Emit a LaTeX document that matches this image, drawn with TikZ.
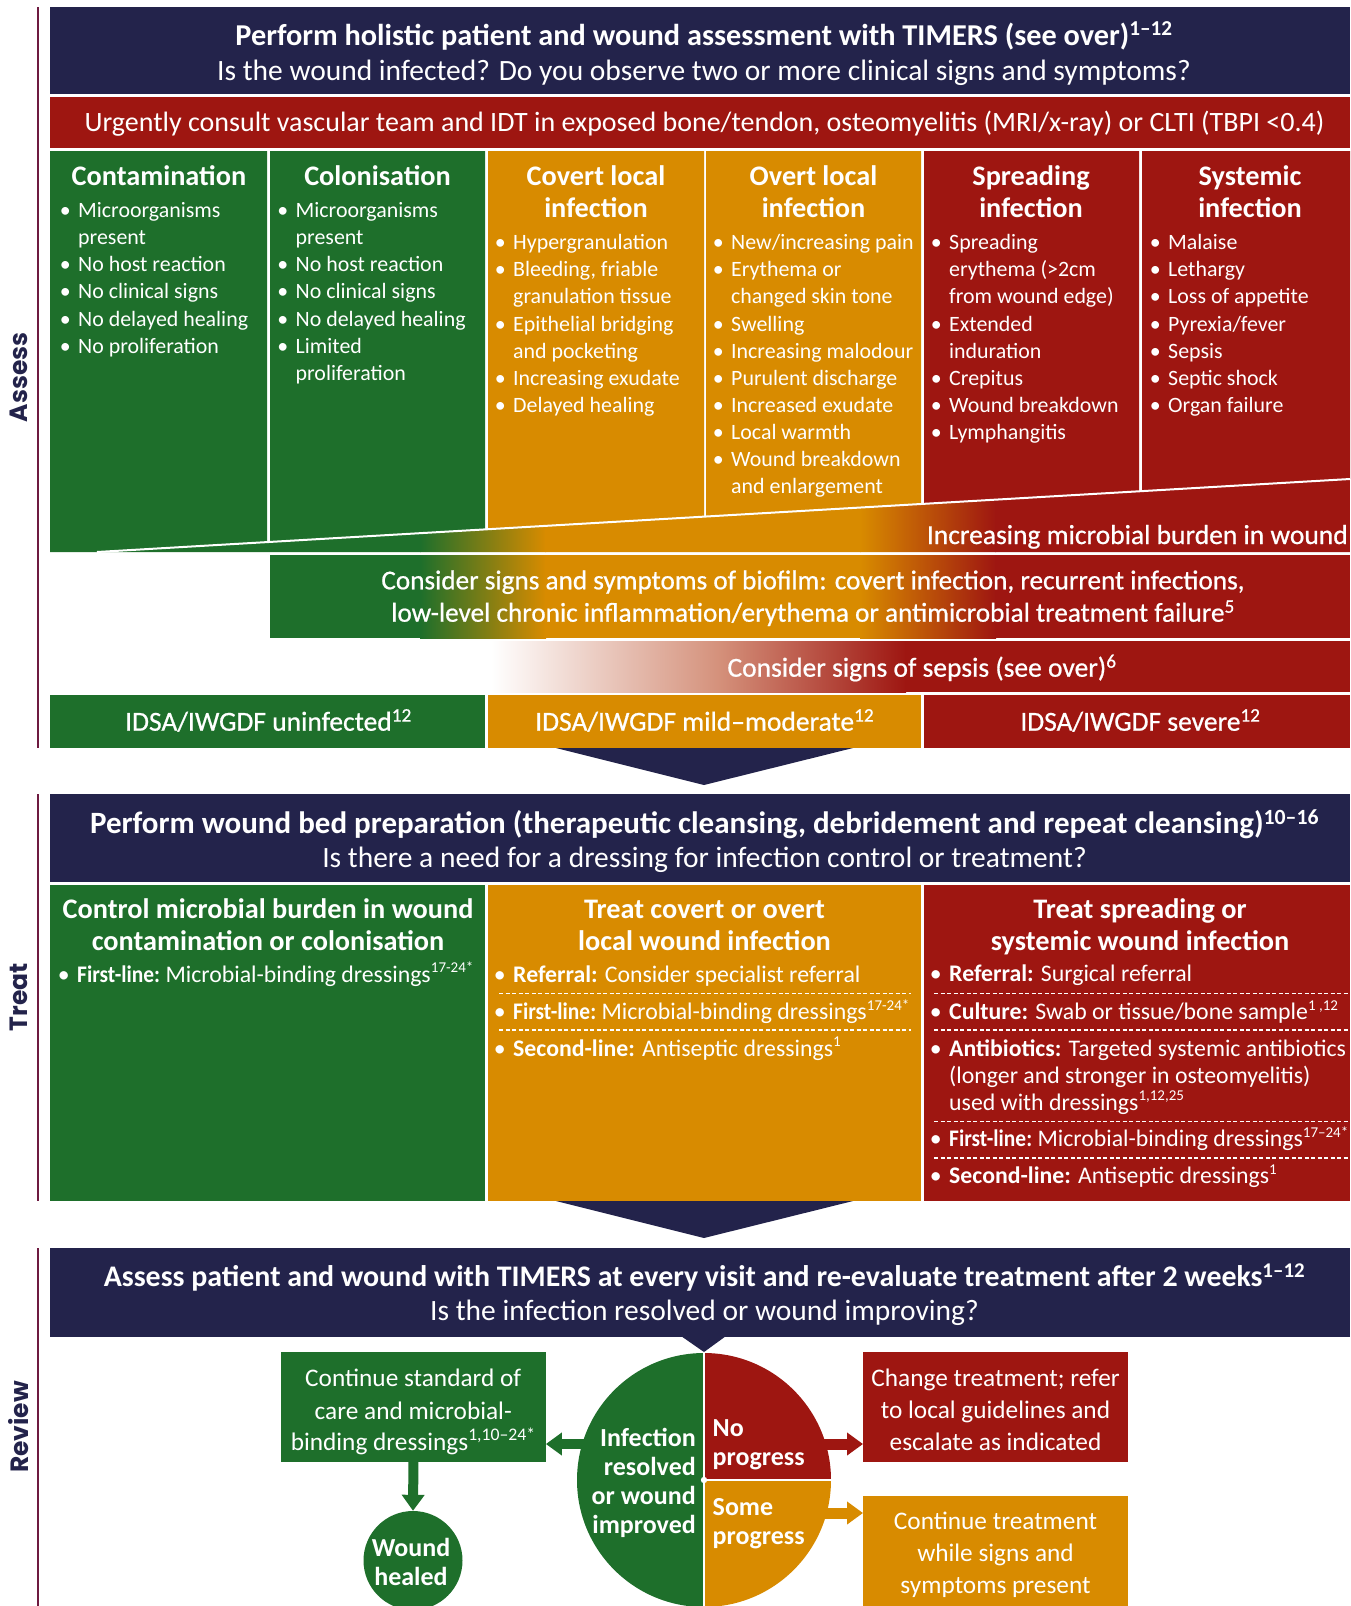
\documentclass[tikz,border=0pt]{standalone}
\usepackage{fontspec}
\setmainfont{Carlito}
\newfontfamily\semifont{Carlito}[FakeBold=0.7]
\newfontfamily\labfont{Poppins}
\usetikzlibrary{arrows.meta}
\definecolor{cnavy}{HTML}{23234B}
\definecolor{cred}{HTML}{9E1611}
\definecolor{cgreen}{HTML}{1E6F2B}
\definecolor{corange}{HTML}{D88B00}
\definecolor{cline}{HTML}{6E1A40}
\definecolor{csalmon}{HTML}{D4907A}
\newcommand\bu{\llap{•\hspace{7.5pt}}}
\newcommand\sps[1]{\textsuperscript{#1}}
\newcommand\spt[1]{\textsuperscript{\scalebox{0.9}{#1}}}
\newcommand\fl{\scalebox{0.9}[1]{\textbf{First-line:}}}
\newcommand\fHeadA{\fontsize{30.3}{34}\selectfont\bfseries}
\newcommand\fHeadB{\fontsize{31}{34}\selectfont\bfseries}
\newcommand\fHeadC{\fontsize{29.9}{34}\selectfont\bfseries}
\newcommand\fSub{\fontsize{29.5}{34}\selectfont}
\newcommand\fBand{\fontsize{28}{32}\selectfont}
\newcommand\fSemi{\semifont\fontsize{27.5}{32}\selectfont}
\newcommand\fBio{\semifont\fontsize{27.2}{32}\selectfont}
\newcommand\fCol{\fontsize{28.3}{32}\selectfont\bfseries}
\newcommand\fBul{\fontsize{21.9}{27}\selectfont}
\newcommand\fTBul{\fontsize{23.8}{27}\selectfont}
\newcommand\fBig{\fontsize{26}{29}\selectfont\bfseries}
\newcommand\fBox{\fontsize{25.3}{31}\selectfont}
\newcommand\fLab{\labfont\fontsize{25}{30}\selectfont\bfseries}
\newcommand\burden[2]{%
  \fill[cgreen] (50,#1) rectangle (421,#2);
  \shade[left color=cgreen,right color=corange] (420,#1) rectangle (546,#2);
  \fill[corange] (545,#1) rectangle (861,#2);
  \shade[left color=corange,right color=cred] (860,#1) rectangle (996,#2);
  \fill[cred] (995,#1) rectangle (1350,#2);}
\begin{document}
\begin{tikzpicture}[x=1pt,y=-1pt,
  txt/.style={text=white,inner sep=0pt},
  box/.style={inner sep=0pt,anchor=north west},
  dsh/.style={white,line width=1.2pt,dash pattern=on 4pt off 2.5pt},
  barrow/.style={line width=#1,-{Triangle[length=16pt,width=22pt]}},
  lab/.style={rotate=90,text=cnavy,font=\fLab,inner sep=0pt}]
\useasboundingbox (0,0) rectangle (1350,1606);
% section lines and labels
\draw[cline,line width=2.5pt] (38,7) -- (38,748);
\draw[cline,line width=2.5pt] (38,794) -- (38,1201);
\draw[cline,line width=2.5pt] (38,1248) -- (38,1606);
\node[lab] (labA) at (18.5,377.5) {Assess};
\node[lab] (labT) at (18.5,997) {Treat};
\node[lab] (labR) at (18.5,1427) {Review};
% ===== ASSESS =====
\fill[cnavy] (50,7) rectangle (1350,94);
\node[txt,anchor=base,font=\fHeadA] (h1a) at (704,45) {Perform holistic patient and wound assessment with TIMERS (see over)\sps{1–12}};
\node[txt,anchor=base,font=\fSub] (h1b) at (704,80) {Is the wound infected? Do you observe two or more clinical signs and symptoms?};
\fill[cred] (50,97) rectangle (1350,148);
\node[txt,anchor=base,font=\fBand] (urg) at (704.5,131.7) {Urgently consult vascular team and IDT in exposed bone/tendon, osteomyelitis (MRI/x-ray) or CLTI (TBPI <0.4)};
% columns
\fill[cgreen] (50,151) -- (267,151) -- (267,542.1) -- (97,552) -- (50,552) -- cycle;
\fill[cgreen] (270,151) -- (485,151) -- (485,529.4) -- (270,541.9) -- cycle;
\fill[corange] (488,151) -- (704,151) -- (704,516.6) -- (488,529.2) -- cycle;
\fill[corange] (706,151) -- (921,151) -- (921,504.0) -- (706,516.5) -- cycle;
\fill[cred] (924,151) -- (1139,151) -- (1139,491.3) -- (924,503.8) -- cycle;
\fill[cred] (1142,151) -- (1350,151) -- (1350,479) -- (1142,491.1) -- cycle;
% wedge
\begin{scope}
\clip (97,552) -- (1350,479) -- (1350,552) -- cycle;
\burden{470}{553}
\end{scope}
\draw[white,line width=2pt] (97,552) -- (1350,479);
\node[txt,anchor=base east,font=\fSemi] (inc) at (1348,544) {Increasing microbial burden in wound};
% column headings
\node[txt,anchor=base,font=\fCol] (hc1) at (158.9,185.7) {Contamination};
\node[txt,anchor=base,font=\fCol] (hc2) at (377.5,185.7) {Colonisation};
\node[txt,anchor=base,font=\fCol] (hc3a) at (596,185.7) {Covert local};
\node[txt,anchor=base,font=\fCol] (hc3b) at (596,217.8) {infection};
\node[txt,anchor=base,font=\fCol] (hc4a) at (813.5,185.7) {Overt local};
\node[txt,anchor=base,font=\fCol] (hc4b) at (813.5,217.8) {infection};
\node[txt,anchor=base,font=\fCol] (hc5a) at (1031,185.7) {Spreading};
\node[txt,anchor=base,font=\fCol] (hc5b) at (1031,217.8) {infection};
\node[txt,anchor=base,font=\fCol] (hc6a) at (1250,185.7) {Systemic};
\node[txt,anchor=base,font=\fCol] (hc6b) at (1250,217.8) {infection};
% bullets
\foreach \t [count=\i from 0] in {{\bu Microorganisms},{present},{\bu No host reaction},{\bu No clinical signs},{\bu No delayed healing},{\bu No proliferation}}
  \node[txt,anchor=base west,font=\fBul] (ca\i) at (78,217.3+27.2*\i) {\t};
\foreach \t [count=\i from 0] in {{\bu Microorganisms},{present},{\bu No host reaction},{\bu No clinical signs},{\bu No delayed healing},{\bu Limited},{proliferation}}
  \node[txt,anchor=base west,font=\fBul] (cb\i) at (295.5,217.3+27.2*\i) {\t};
\foreach \t [count=\i from 0] in {{\bu Hypergranulation},{\bu Bleeding, friable},{granulation tissue},{\bu Epithelial bridging},{and pocketing},{\bu Increasing exudate},{\bu Delayed healing}}
  \node[txt,anchor=base west,font=\fBul] (cc\i) at (513,249.7+27.1*\i) {\t};
\foreach \t [count=\i from 0] in {{\bu New/increasing pain},{\bu Erythema or},{changed skin tone},{\bu Swelling},{\bu Increasing malodour},{\bu Purulent discharge},{\bu Increased exudate},{\bu Local warmth},{\bu Wound breakdown},{and enlargement}}
  \node[txt,anchor=base west,font=\fBul] (cd\i) at (731,249.7+27.1*\i) {\t};
\foreach \t [count=\i from 0] in {{\bu Spreading},{erythema (>2cm},{from wound edge)},{\bu Extended},{induration},{\bu Crepitus},{\bu Wound breakdown},{\bu Lymphangitis}}
  \node[txt,anchor=base west,font=\fBul] (ce\i) at (949,249.7+27.1*\i) {\t};
\foreach \t [count=\i from 0] in {{\bu Malaise},{\bu Lethargy},{\bu Loss of appetite},{\bu Pyrexia/fever},{\bu Sepsis},{\bu Septic shock},{\bu Organ failure}}
  \node[txt,anchor=base west,font=\fBul] (cf\i) at (1168,249.7+27.1*\i) {\t};
% biofilm band
\begin{scope}
\clip (270,555) rectangle (1350,638);
\burden{555}{638}
\end{scope}
\node[txt,anchor=base,font=\fBio] (bio1) at (813,589.3) {Consider signs and symptoms of biofilm: covert infection, recurrent infections,};
\node[txt,anchor=base,font=\fBio] (bio2) at (813,621.7) {low-level chronic inflammation/erythema or antimicrobial treatment failure\sps{5}};
% sepsis band
\shade[left color=white,right color=csalmon] (491,641) rectangle (721,692);
\shade[left color=csalmon,right color=cred] (720,641) rectangle (906,692);
\fill[cred] (905,641) rectangle (1350,692);
\node[txt,anchor=base,font=\fSemi] (sep) at (922,676.7) {Consider signs of sepsis (see over)\sps{6}};
% IDSA
\fill[cgreen] (50,695) rectangle (485,748);
\fill[corange] (488,695) rectangle (921,748);
\fill[cred] (924,695) rectangle (1350,748);
\node[txt,anchor=base,font=\fSemi] (id1) at (268.5,730.7) {IDSA/IWGDF uninfected\sps{12}};
\node[txt,anchor=base,font=\fSemi] (id2) at (704.7,730.7) {IDSA/IWGDF mild–moderate\sps{12}};
\node[txt,anchor=base,font=\fSemi] (id3) at (1140.4,730.7) {IDSA/IWGDF severe\sps{12}};
\fill[cnavy] (556,748) -- (853,748) -- (704,785) -- cycle;
% ===== TREAT =====
\fill[cnavy] (50,794) rectangle (1350,882);
\node[txt,anchor=base,font=\fHeadB] (h2a) at (704.5,833.3) {Perform wound bed preparation (therapeutic cleansing, debridement and repeat cleansing)\sps{10–16}};
\node[txt,anchor=base,font=\fSub] (h2b) at (704.5,867.3) {Is there a need for a dressing for infection control or treatment?};
\fill[cgreen] (50,885) rectangle (485,1201);
\fill[corange] (488,885) rectangle (921,1201);
\fill[cred] (924,885) rectangle (1350,1201);
\node[txt,anchor=base,font=\fCol] (tg1) at (268,918.3) {Control microbial burden in wound};
\node[txt,anchor=base,font=\fCol] (tg2) at (268,950) {contamination or colonisation};
\node[txt,anchor=base,font=\fCol] (to1) at (704.5,918.3) {Treat covert or overt};
\node[txt,anchor=base,font=\fCol] (to2) at (704.5,950) {local wound infection};
\node[txt,anchor=base,font=\fCol] (tr1) at (1140,918.3) {Treat spreading or};
\node[txt,anchor=base,font=\fCol] (tr2) at (1140,950) {systemic wound infection};
\node[txt,anchor=base west,font=\fTBul] (tgb) at (77,982) {\bu\fl{} Microbial-binding dressings\spt{17-24*}};
\node[txt,anchor=base west,font=\fTBul] (tob1) at (513,982) {\bu\textbf{Referral:} Consider specialist referral};
\node[txt,anchor=base west,font=\fTBul] (tob2) at (513,1019.3) {\bu\fl{} Microbial-binding dressings\spt{17-24*}};
\node[txt,anchor=base west,font=\fTBul] (tob3) at (513,1056) {\bu\textbf{Second-line:} Antiseptic dressings\spt{1}};
\draw[dsh] (499,993.3) -- (911,993.3);
\draw[dsh] (499,1030) -- (911,1030);
\node[txt,anchor=base west,font=\fTBul] (trb1) at (949,981.7) {\bu\textbf{Referral:} Surgical referral};
\node[txt,anchor=base west,font=\fTBul] (trb2) at (949,1019.3) {\bu\textbf{Culture:} Swab or tissue/bone sample\spt{1 ,12}};
\node[txt,anchor=base west,font=\fTBul] (trb3) at (949,1056) {\bu\textbf{Antibiotics:} Targeted systemic antibiotics};
\node[txt,anchor=base west,font=\fTBul] (trb4) at (949,1083.3) {(longer and stronger in osteomyelitis)};
\node[txt,anchor=base west,font=\fTBul] (trb5) at (949,1110) {used with dressings\spt{1,12,25}};
\node[txt,anchor=base west,font=\fTBul] (trb6) at (949,1146.7) {\bu\fl{} Microbial-binding dressings\spt{17–24*}};
\node[txt,anchor=base west,font=\fTBul] (trb7) at (949,1183.3) {\bu\textbf{Second-line:} Antiseptic dressings\spt{1}};
\draw[dsh] (934,993.3) -- (1348,993.3);
\draw[dsh] (934,1030) -- (1348,1030);
\draw[dsh] (934,1121.7) -- (1348,1121.7);
\draw[dsh] (934,1158) -- (1348,1158);
\fill[cnavy] (556,1201) -- (853,1201) -- (704,1238) -- cycle;
% ===== REVIEW =====
\fill[cnavy] (50,1248) rectangle (1350,1337);
\node[txt,anchor=base,font=\fHeadC] (h3a) at (704.5,1286.7) {Assess patient and wound with TIMERS at every visit and re-evaluate treatment after 2 weeks\sps{1–12}};
\node[txt,anchor=base,font=\fSub] (h3b) at (704.5,1320.7) {Is the infection resolved or wound improving?};
\fill[cnavy] (681,1336) -- (726,1336) -- (704,1352) -- cycle;
% boxes
\node[box,fill=cgreen,minimum width=264.5pt,minimum height=109.7pt] (gbox) at (281,1352) {};
\node[box,fill=cred,minimum width=265pt,minimum height=110pt] (rbox) at (863,1352) {};
\node[box,fill=corange,minimum width=265pt,minimum height=115pt] (obox) at (863,1496) {};
\node[circle,fill=cgreen,minimum size=99pt,inner sep=0pt] (heal) at (413,1560.5) {};
\coordinate (cc) at (704,1480);
\coordinate (gA) at (592,1444);
\coordinate (rA) at (818,1444);
\coordinate (oA) at (818,1513);
% arrows
\draw[cgreen,barrow=10pt] (gA) -- (gA -| gbox.east);
\draw[cred,barrow=11pt] (rA) -- (rA -| rbox.west);
\draw[corange,barrow=11pt] (oA) -- (oA -| obox.west);
\draw[cgreen,barrow=10pt] (gbox.south) -- (heal.north);
% split circle
\begin{scope}
\clip (cc) circle[radius=127];
\fill[cgreen] (570,1350) rectangle (704,1610);
\fill[cred] (704,1350) rectangle (840,1480);
\fill[corange] (704,1480) rectangle (840,1610);
\end{scope}
\draw[white,line width=2.5pt] (704,1353) -- (704,1610);
\draw[white,line width=2.5pt] (704,1480) -- (835,1480);
\fill[white] (cc) circle[radius=3.2];
% texts in review
\node[txt,anchor=base,font=\fBox] (g1) at (413.25,1386.7) {Continue standard of};
\node[txt,anchor=base,font=\fBox] (g2) at (413.25,1419.3) {care and microbial-};
\node[txt,anchor=base,font=\fBox] (g3) at (413.25,1450) {binding dressings\sps{1,10–24*}};
\node[txt,anchor=base,font=\fBox] (r1) at (995.5,1386.7) {Change treatment; refer};
\node[txt,anchor=base,font=\fBox] (r2) at (995.5,1418.3) {to local guidelines and};
\node[txt,anchor=base,font=\fBox] (r3) at (995.5,1450) {escalate as indicated};
\node[txt,anchor=base,font=\fBox] (o1) at (995.5,1529.3) {Continue treatment};
\node[txt,anchor=base,font=\fBox] (o2) at (995.5,1561.7) {while signs and};
\node[txt,anchor=base,font=\fBox] (o3) at (995.5,1593.3) {symptoms present};
\node[txt,anchor=base east,font=\fBig] (i1) at (696,1446) {Infection};
\node[txt,anchor=base east,font=\fBig] (i2) at (696,1475) {resolved};
\node[txt,anchor=base east,font=\fBig] (i3) at (696,1504) {or wound};
\node[txt,anchor=base east,font=\fBig] (i4) at (696,1533) {improved};
\node[txt,anchor=base west,font=\fBig] (n1) at (712.5,1436) {No};
\node[txt,anchor=base west,font=\fBig] (n2) at (712.5,1465) {progress};
\node[txt,anchor=base west,font=\fBig] (s1) at (712.5,1515) {Some};
\node[txt,anchor=base west,font=\fBig] (s2) at (712.5,1544) {progress};
\node[txt,anchor=base,font=\fBig] (w1) at (411,1556) {Wound};
\node[txt,anchor=base,font=\fBig] (w2) at (411,1585) {healed};
\end{tikzpicture}
\end{document}
